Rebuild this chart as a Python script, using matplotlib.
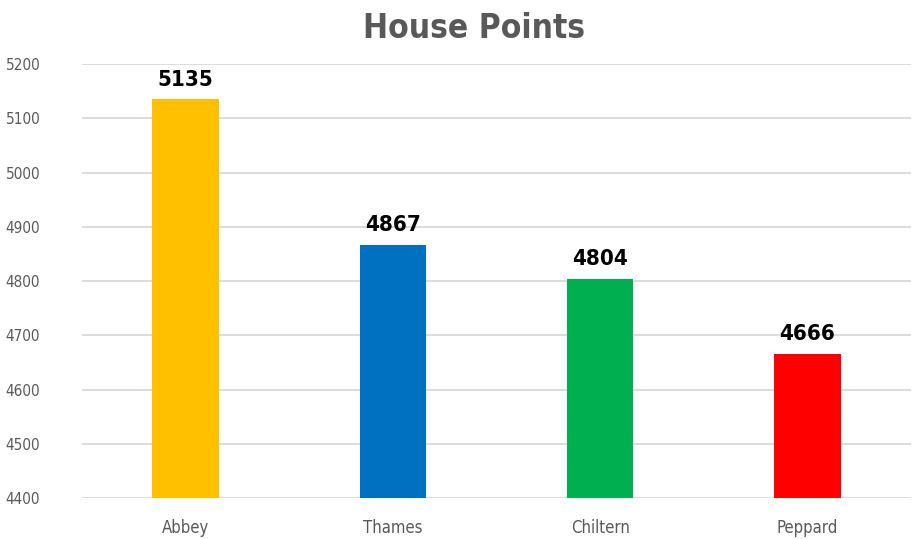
import matplotlib
matplotlib.use("Agg")
import matplotlib.pyplot as plt

houses = ["Abbey", "Thames", "Chiltern", "Peppard"]
points = [5135, 4867, 4804, 4666]
colours = ["#FFC000", "#0070C0", "#00B050", "#FF0000"]

plt.rcParams["font.family"] = ["DejaVu Sans"]
plt.rcParams["font.stretch"] = "condensed"

fig = plt.figure(figsize=(9.13, 5.39), dpi=100)
ax = fig.add_axes([0.0898, 0.0761, 0.908, 0.805])

ax.bar(range(len(houses)), [p - 4400 for p in points], bottom=4400,
       width=0.32, color=colours, zorder=3)
for i, p in enumerate(points):
    ax.text(i, p + 18, str(p), ha="center", va="bottom",
            fontsize=16, fontweight="bold", color="black")

ax.set_xlim(-0.5, 3.5)
ax.set_ylim(4400, 5200)
ax.set_yticks(range(4400, 5201, 100))
ax.set_xticks(range(len(houses)))
ax.set_xticklabels(houses, fontsize=12)
ax.grid(axis="y", color="#d9d9d9", linewidth=1.3, zorder=0)
for s in ax.spines.values():
    s.set_visible(False)
ax.tick_params(length=0, labelcolor="#595959")
ax.tick_params(axis="y", pad=30, labelsize=11)
ax.tick_params(axis="x", pad=15)

fig.text(0.519, 0.947, "House Points", ha="center", va="center",
         fontsize=24, fontweight="bold", color="#595959")

fig.savefig("out.png", dpi=100)
